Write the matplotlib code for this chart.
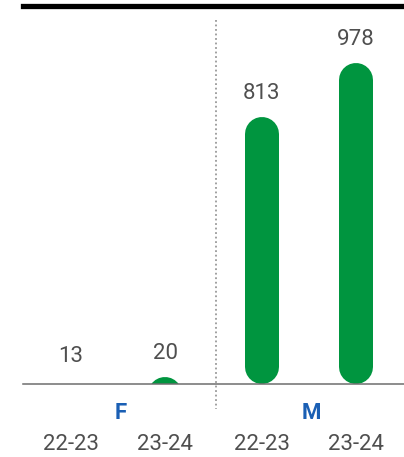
import matplotlib
matplotlib.use('Agg')
import matplotlib.pyplot as plt
from matplotlib.lines import Line2D
from matplotlib.patches import Rectangle

groups = ['F', 'M']
years = ['22-23', '23-24']
values = [[13, 20], [813, 978]]

green = '#00953f'
blue = '#1a5fb4'
grey_txt = '#4f4f4f'

W, H = 404, 457
dpi = 100
plt.rcParams['font.family'] = ['Roboto', 'DejaVu Sans']

fig = plt.figure(figsize=(W / dpi, H / dpi), dpi=dpi)
ax = fig.add_axes([0, 0, 1, 1])
ax.set_axis_off()

# px layout
unit = 94.0
x0 = 71.0
scale = 0.328            # px per unit
base_px = 73.0           # baseline from bottom
ax.set_xlim(-x0 / unit, (W - x0) / unit)
ax.set_ylim(-base_px / scale, (H - base_px) / scale)

bar_px = 34
r = bar_px / 2 / scale
lw = bar_px * 72 / dpi

clip = Rectangle((-5, 0), 20, 5000, transform=ax.transData)

for g, vals in enumerate(values):
    for i, v in enumerate(vals):
        x = g * 2 + i + 0.03 * g
        hi = v - r
        lo = min(r, hi - 0.5)
        ln, = ax.plot([x, x], [lo, hi], color=green, lw=lw,
                      solid_capstyle='round')
        ln.set_clip_path(clip)
        ax.annotate(str(v), (x, v), xytext=(0, 9.5), textcoords='offset points',
                    ha='center', va='bottom', fontsize=16, color=grey_txt)
        ax.text(x, -60 / scale, years[i], ha='center', va='center',
                fontsize=16, color=grey_txt)
    mid = g * 2 + 0.5 + 0.03 * g
    ax.text(mid + 0.03, -29 / scale, groups[g], ha='center', va='center',
            fontsize=16, fontweight='bold', color=blue)

# baseline
fig.add_artist(Line2D([23 / W, 1], [base_px / H, base_px / H], color='#6d6d6d', lw=1.1))
# top rule
fig.add_artist(Line2D([23 / W, 1], [1 - 5.5 / H, 1 - 5.5 / H], color='black', lw=3.8))
# group separator
fig.add_artist(Line2D([216 / W, 216 / W], [1 - 20 / H, 1 - 409 / H], color='#999999',
                      lw=1.3, linestyle=(0, (1, 1.5))))

fig.savefig('out.png', dpi=dpi)
